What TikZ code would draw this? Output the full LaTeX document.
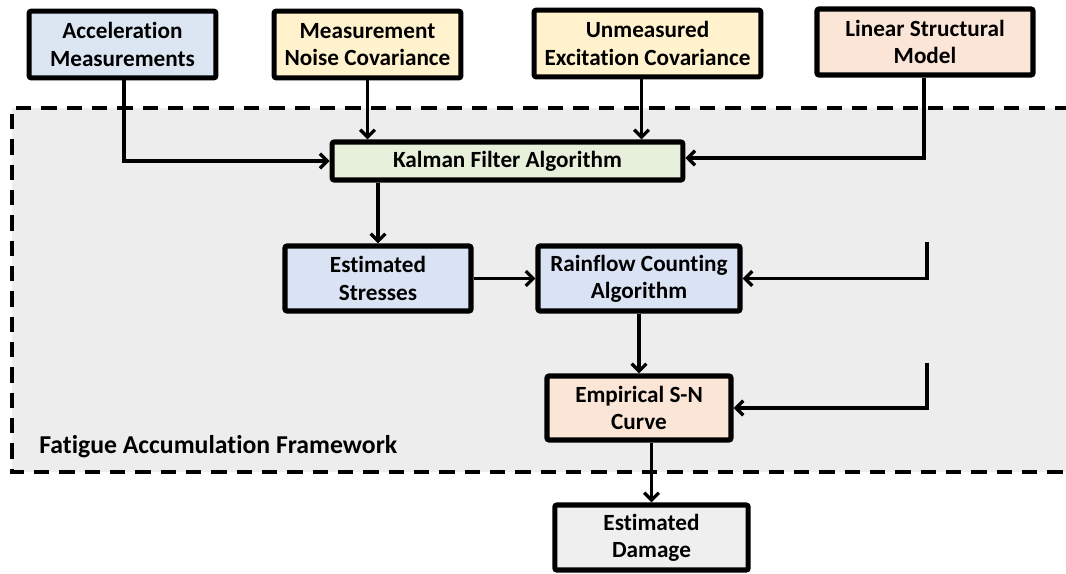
\documentclass[tikz,border=0pt]{standalone}
\usepackage{fontspec}
\setmainfont[Ligatures={NoCommon}]{Carlito}
\usetikzlibrary{arrows.meta,calc}
\definecolor{accfill}{HTML}{DCE6F2}
\definecolor{yelfill}{HTML}{FFF2CC}
\definecolor{orfill}{HTML}{FBE5D6}
\definecolor{grnfill}{HTML}{E6F0DA}
\definecolor{bluefill}{HTML}{DAE3F3}
\definecolor{bgfill}{HTML}{EDEDED}
\definecolor{damfill}{HTML}{EFEFEF}
\tikzset{
  box/.style={draw=black, line width=3.8pt, rounded corners=1.5pt, align=center, inner sep=0pt,
    font=\fontsize{17.4}{20.5}\selectfont\bfseries},
  arr/.style={line width=2.5pt, -{Straight Barb[length=5.5pt,width=11pt,line width=2.5pt]}},
  lbl/.style={font=\fontsize{19.3}{21}\selectfont\bfseries, inner sep=0pt}
}
\begin{document}
\begin{tikzpicture}[x=0.75pt,y=-0.75pt]
\useasboundingbox (0,0) rectangle (1066,574);
% framework region
\fill[bgfill] (12,108) rectangle (1070,472);
\draw[line width=2.5pt, dash pattern=on 11.5pt off 7.5pt] (1070,108) -- (12,108) -- (12,472) -- (1070,472);
\node[lbl, anchor=base west] (fw) at (39,453) {Fatigue Accumulation Framework};

% boxes (sizes in px*0.75pt)
\node[box, fill=accfill, minimum width=140pt, minimum height=50pt] (acc) at (122.5,44.5) {Acceleration\\Measurements};
\node[box, fill=yelfill, minimum width=140pt, minimum height=50pt] (noise) at (367.5,44.5) {Measurement\\Noise Covariance};
\node[box, fill=yelfill, minimum width=170pt, minimum height=50pt] (unm) at (647.5,43.5) {Unmeasured\\Excitation Covariance};
\node[box, fill=orfill, minimum width=162pt, minimum height=49.5pt] (lin) at (925,42) {Linear Structural\\Model};
\node[box, fill=grnfill, minimum width=263pt, minimum height=28.5pt] (kal) at (507.5,161) {Kalman Filter Algorithm};
\node[box, fill=bluefill, minimum width=139.5pt, minimum height=48.75pt] (str) at (378,278.5) {Estimated\\Stresses};
\node[box, fill=bluefill, minimum width=151.5pt, minimum height=48.75pt] (rain) at (639,278.5) {Rainflow Counting\\Algorithm};
\node[box, fill=orfill, minimum width=138pt, minimum height=48pt] (sn) at (639,408) {Empirical S-N\\Curve};
\node[box, fill=damfill, minimum width=145pt, minimum height=48.75pt] (dam) at (651.5,537.5) {Estimated\\Damage};

% free ends
\coordinate (c1) at (927,242);
\coordinate (c2) at (927,363);

% connectors
\draw[arr] ($(acc.south)+(1.5,0)$) |- (kal.west);
\draw[arr] (noise.south) -- (noise.south |- kal.north);
\draw[arr] ($(unm.south)+(-6,0)$) -- ($(unm.south |- kal.north)+(-6,0)$);
\draw[arr] ($(lin.south)+(-1,0)$) |- ($(kal.east)+(0,-3)$);
\draw[arr] (str.north |- kal.south) -- (str.north);
\draw[arr] (str.east) -- (rain.west);
\draw[arr] (c1) |- (rain.east);
\draw[arr] (rain.south) -- (sn.north);
\draw[arr] (c2) |- (sn.east);
\draw[arr] (dam.north |- sn.south) -- (dam.north);
\end{tikzpicture}
\end{document}
